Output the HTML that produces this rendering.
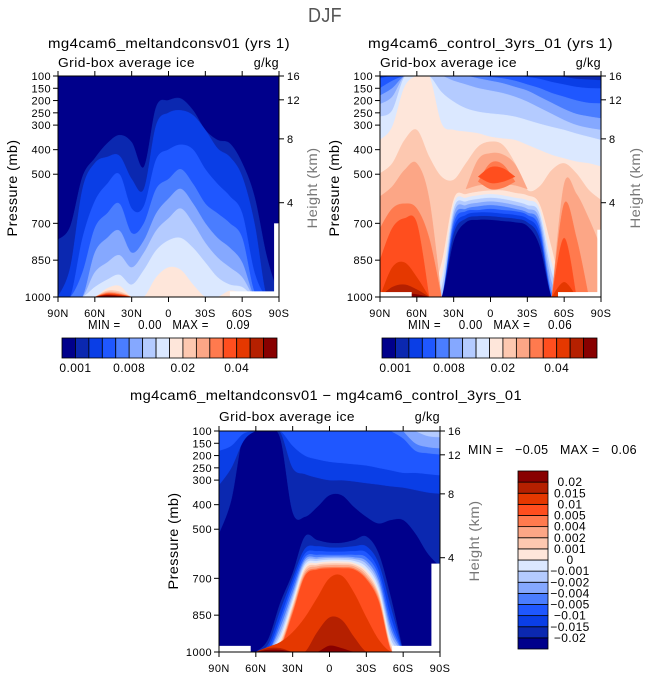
<!DOCTYPE html>
<html><head><meta charset="utf-8"><style>
html,body{margin:0;padding:0;background:#fff}
svg{display:block;font-family:"Liberation Sans",sans-serif}
text{white-space:pre;letter-spacing:0.4px}
</style></head><body>
<svg id="fig" width="649" height="676" viewBox="0 0 649 676" xmlns="http://www.w3.org/2000/svg">
<rect width="649" height="676" fill="#fff"/>
</svg>
<script>
// ---------- shared ----------
const LATS=[90,80,70,60,50,40,30,20,10,0,-10,-20,-30,-40,-50,-60,-70,-80,-90];
const PAL=['#00008b','#0b28b0','#0a3ee6','#1f57ff','#4a7dff','#85a8ff','#b4cbff','#dbe8ff','#fee6da','#fdc8b0','#fca686','#ff7a4e','#ff4e1e','#e53800','#b52000','#880000'];
const pTicks=[100,150,200,250,300,400,500,700,850,1000];
const hTickLabels=['16','12','8','4'];
const hTickP=[100,197,356,616];
const latTicks=[90,60,30,0,-30,-60,-90];
const latTickLabels=['90N','60N','30N','0','30S','60S','90S'];
const cbLabelsTop=['0.001','0.008','0.02','0.04'];
const cbLabelIdxTop=[1,5,9,13];
const cbLabelsDiff=['-0.02','-0.015','-0.01','-0.005','-0.004','-0.002','-0.001','0','0.001','0.002','0.004','0.005','0.01','0.015','0.02'];

// ---------- melt panel data ----------
const meltLevels=[1,2,3,4,5,6,7,8,9,10,11,12,13,14,15];
const meltStart=[0,0,0,0,0,0,0,0,3,3,3,3,3,3,3];
const meltTop=[
[767,713,510,435,375,341,370,470,226,199,192,240,320,361,375,455,591,835,1000],
[1000,880,560,455,430,425,520,560,300,250,240,260,320,395,430,510,700,1000,1000],
[1000,1000,760,610,540,500,640,630,440,400,380,400,480,540,590,660,900,1000,1000],
[1000,1000,900,720,660,620,740,700,560,520,480,540,620,660,700,760,980,1000,1000],
[1000,1000,1000,820,760,730,820,770,660,600,560,620,700,760,800,860,1000,1000,1000],
[1000,1000,1000,900,860,830,880,820,730,680,640,700,780,840,880,920,1000,1000,1000],
[1000,1000,1000,960,930,910,950,890,810,770,760,800,860,920,950,960,1000,1000,1000],
[1000,1000,1000,1000,965,955,1000,1000,920,880,890,950,1000,1000,975,985,1000,1000,1000],
[1000,975,978,1000],[1000,980,984,1000],[1000,984,988,1000],[1000,987,990,1000],
[1000,990,993,1000],[1000,992,995,1000],[1000,994,997,1000]];
const meltBot=[1000,1000,1000,1000,1000,1000,1000,1000,1000,1000,1000,1000,1000,1000,1000];
const meltMaskLat1=[-50,-86], meltMaskLat2=[-90,-90], meltMaskP=[977,700];

// ---------- control panel data ----------
const ctrlLevels=[1,2,3,4,5,6,7,8,9,10,10,10,11,11,11,12,12,12,13,13,14,15];
const ctrlStart=[0,0,0,0,0,0,0,0,0,0,7,14,0,8,14,0,8,14,0,14,0,0];
const ctrlTop=[
[100,100,100,100,100,100,100,100,100,100,100,100,100,100,100,100,100,100,100],
[100,100,100,100,100,100,100,100,100,100,100,100,100,100,100,105,112,115,118],
[110,100,100,100,100,100,100,100,100,100,100,100,105,112,125,135,145,150,151],
[150,120,100,100,100,100,100,100,100,105,110,120,135,150,170,185,200,210,212],
[180,150,100,100,100,100,100,100,110,120,130,145,160,185,210,235,255,265,273],
[215,185,100,100,100,100,120,135,150,160,170,185,205,230,255,280,300,312,320],
[266,240,104,100,100,165,205,232,246,253,258,266,280,295,308,320,335,348,361],
[361,307,145,100,100,293,320,327,334,348,355,361,381,402,422,436,449,456,469],
[497,456,361,320,429,510,523,456,388,368,381,456,564,550,483,456,497,564,605],
[591,550,483,456,600,1000],[560,440,415,420,460,560],[1000,540,580,680,800],
[720,640,620,640,760,1000],[530,455,460,530],[1000,620,760,1000],
[850,720,680,700,1000],[510,472,476,510],[1000,760,1000],
[1000,880,860,920,1000],[1000,940,1000],
[1000,960,950,970,1000],
[1000,990,985,990,1000]];
const ctrlBot=[
[1000,1000,1000,1000,1000,1000,770,695,685,685,690,695,710,790,1000,1000,1000,1000,1000],
[1000,1000,1000,1000,1000,1000,740,680,670,670,675,680,695,760,1000,1000,1000,1000,1000],
[1000,1000,1000,1000,1000,1000,720,665,655,655,660,665,680,740,1000,1000,1000,1000,1000],
[1000,1000,1000,1000,1000,1000,700,650,645,640,645,650,665,720,1000,1000,1000,1000,1000],
[1000,1000,1000,1000,1000,1000,680,640,630,625,630,640,655,700,980,1000,1000,1000,1000],
[1000,1000,1000,1000,1000,1000,660,625,615,610,615,625,640,680,940,1000,1000,1000,1000],
[1000,1000,1000,1000,1000,960,640,610,600,595,600,610,625,660,900,1000,1000,1000,1000],
[1000,1000,1000,1000,1000,920,620,595,585,580,585,595,605,640,860,1000,1000,1000,1000],
[1000,1000,1000,1000,1000,860,600,580,570,565,565,575,585,620,800,1000,1000,1000,1000],
1000,[560,545,540,540,545,560],1000,
1000,[530,560,555,530],1000,
1000,[510,535,530,510],1000,
1000,1000,1000,1000];
const ctrlMaskLat1=[90,-55,-87], ctrlMaskLat2=[65,-90,-90], ctrlMaskP=[980,980,726];

// ---------- difference panel data ----------
const diffLevels=[1,2,3,4,5,6,1,2,3,4,5,6,7,8,9,10,11,12,13,14,15];
const diffStart=[0,0,0,14,15,16,3,3,3,3,3,3,3,3,3,3,3,3,3,3,3];
const diffTop=[100,100,100,100,100,100,
[1000,950,800,680,530,545,556,556,545,530,600,780,1000],
[1000,970,830,700,580,570,575,575,570,570,640,820,1000],
[1000,985,860,720,600,590,592,592,590,595,670,860,1000],
[1000,1000,880,740,615,605,605,605,605,615,690,890,1000],
[1000,1000,900,760,625,615,612,612,615,630,710,910,1000],
[1000,1000,920,775,635,622,618,618,622,642,725,930,1000],
[1000,1000,935,790,645,630,625,625,630,655,740,950,1000],
[1000,1000,950,805,655,638,632,632,638,668,755,965,1000],
[1000,1000,960,815,665,645,640,640,645,678,765,975,1000],
[1000,1000,970,825,675,652,647,647,652,688,775,985,1000],
[1000,1000,975,835,685,660,655,655,660,698,785,990,1000],
[1000,1000,980,845,692,665,660,660,665,705,795,995,1000],
[1000,980,960,920,860,780,700,690,760,860,950,1000,1000],
[1000,985,985,1000,1000,920,860,870,940,1000,1000,1000,1000],
[1000,992,992,1000,1000,1000,975,985,1000,1000,1000,1000,1000]];
const diffBot=[
[517,380,110,100,100,130,430,449,409,361,361,409,449,476,462,462,517,598,652],
[320,250,140,100,100,105,250,275,290,300,300,305,312,318,325,330,340,350,355],
[180,160,110,100,100,100,160,200,215,225,230,235,240,250,260,270,270,275,280],
[100,130,180,190,195],[100,150,165,170],[100,120,125],
1000,1000,1000,1000,1000,1000,1000,1000,1000,1000,1000,1000,1000,1000,1000];
const diffMaskLat1=[90,-51,-83], diffMaskLat2=[65,-90,-90], diffMaskP=[975,975,640];

// ---------- drawing ----------
const NS='http://www.w3.org/2000/svg';
const svg=document.getElementById('fig');
function mk(tag,attrs,parent){const e=document.createElementNS(NS,tag);for(const k in attrs)e.setAttribute(k,attrs[k]);(parent||svg).appendChild(e);return e;}
function lx(P,lat){return P.x+(90-lat)/180*P.w;}
function py(P,p){return P.y+(p-100)/900*P.h;}
function curve(pts){let d='';for(let i=0;i<pts.length-1;i++){const p0=pts[Math.max(0,i-1)],p1=pts[i],p2=pts[i+1],p3=pts[Math.min(pts.length-1,i+2)];
const c1x=p1[0]+(p2[0]-p0[0])/6,c1y=p1[1]+(p2[1]-p0[1])/6,c2x=p2[0]-(p3[0]-p1[0])/6,c2y=p2[1]-(p3[1]-p1[1])/6;
d+=` C${c1x.toFixed(2)},${c1y.toFixed(2)} ${c2x.toFixed(2)},${c2y.toFixed(2)} ${p2[0].toFixed(2)},${p2[1].toFixed(2)}`;}return d;}
function val(a,i){return Array.isArray(a)?a[i]:a;}

function drawPanel(P,name,levels,starts,tops,bots,m1,m2,mp){
  const cid='clip-'+name;
  const defs=mk('defs',{});const cp=mk('clipPath',{id:cid},defs);mk('rect',{x:P.x,y:P.y,width:P.w,height:P.h},cp);
  const g=mk('g',{'clip-path':'url(#'+cid+')'});
  
  
  const bg=mk('rect',{x:P.x,y:P.y,width:P.w,height:P.h,fill:PAL[0]},g);
  
  
  for(let b=0;b<levels.length;b++){
    const n=Array.isArray(tops[b])?tops[b].length:bots[b].length;
    const s=starts[b];const tp=[],bp=[];
    for(let i=0;i<n;i++){const X=lx(P,LATS[s+i]);tp.push([X,py(P,val(tops[b],i))]);bp.push([X,py(P,val(bots[b],i))]);}
    bp.reverse();
    const d='M'+tp[0][0]+','+tp[0][1]+curve(tp)+' L'+bp[0][0]+','+bp[0][1]+curve(bp)+' Z';
    const path=mk('path',{d:d,fill:PAL[levels[b]],stroke:PAL[levels[b]],'stroke-width':0.4},g);
    
    
  }
  for(let k=0;k<m1.length;k++){
    const x1=lx(P,m1[k]),x2=lx(P,m2[k]);
    const r=mk('rect',{x:Math.min(x1,x2),y:py(P,mp[k]),width:Math.abs(x2-x1)+1,height:P.y+P.h-py(P,mp[k])+1,fill:'#fff'},g);
    
    
  }
  const fr=mk('rect',{x:P.x,y:P.y,width:P.w,height:P.h,fill:'none',stroke:'#000','stroke-width':1});
  
  
  for(let i=0;i<pTicks.length;i++){const Y=py(P,pTicks[i]);
    mk('line',{x1:P.x-5,y1:Y,x2:P.x,y2:Y,stroke:'#000'});
    const t=mk('text',{x:P.x-7,y:Y+4,'font-size':11,'text-anchor':'end'});t.textContent=pTicks[i];
    
    }
  for(let i=0;i<hTickP.length;i++){const Y=py(P,hTickP[i]);
    mk('line',{x1:P.x+P.w,y1:Y,x2:P.x+P.w+5,y2:Y,stroke:'#000'});
    const t=mk('text',{x:P.x+P.w+8,y:Y+4,'font-size':11});t.textContent=hTickLabels[i];
    
    }
  for(let i=0;i<latTicks.length;i++){const X=lx(P,latTicks[i]);
    mk('line',{x1:X,y1:P.y+P.h,x2:X,y2:P.y+P.h+5,stroke:'#000'});
    mk('line',{x1:X,y1:P.y-5,x2:X,y2:P.y,stroke:'#000'});
    const t=mk('text',{x:X,y:P.y+P.h+20,'font-size':11,'text-anchor':'middle'});t.textContent=latTickLabels[i];
    
    }
}
function txt(x,y,s,size,name,extra){const t=mk('text',Object.assign({x:x,y:y,'font-size':size},extra||{}));t.textContent=s;
  
  return t;}
function vtxt(x,y,s,name,fill,len){const t=mk('text',{x:0,y:0,'font-size':14,'text-anchor':'middle',fill:fill,textLength:len,lengthAdjust:'spacingAndGlyphs',transform:`translate(${x},${y}) rotate(-90)`});t.textContent=s;
  
  }
const FIT={lengthAdjust:'spacingAndGlyphs'};

const PM={x:58,y:76,w:221,h:221},PC={x:380,y:76,w:221,h:221},PD={x:219,y:431,w:221,h:221};
txt(325,22,'DJF',20,'figure-title',{'text-anchor':'middle',fill:'#555',textLength:34,lengthAdjust:'spacingAndGlyphs'});

drawPanel(PM,'melt',meltLevels,meltStart,meltTop,meltBot,meltMaskLat1,meltMaskLat2,meltMaskP);
txt(48,48,'mg4cam6_meltandconsv01 (yrs 1)',14,'melt-title',Object.assign({textLength:242},FIT));
txt(58,67,'Grid-box average ice',12.5,'melt-subtitle',Object.assign({textLength:137},FIT));
txt(279,67,'g/kg',12.5,'melt-units',{'text-anchor':'end'});
vtxt(17,188,'Pressure (mb)','melt-y-axis-title','#000',97);
vtxt(317,188,'Height (km)','melt-right-axis-title','#777',81);
txt(88,329,'MIN =     0.00   MAX =     0.09',13,'melt-min-max',Object.assign({textLength:162},FIT));

drawPanel(PC,'control',ctrlLevels,ctrlStart,ctrlTop,ctrlBot,ctrlMaskLat1,ctrlMaskLat2,ctrlMaskP);
txt(368,48,'mg4cam6_control_3yrs_01 (yrs 1)',14,'control-title',Object.assign({textLength:245},FIT));
txt(380,67,'Grid-box average ice',12.5,'control-subtitle',Object.assign({textLength:137},FIT));
txt(601,67,'g/kg',12.5,'control-units',{'text-anchor':'end'});
vtxt(339,188,'Pressure (mb)','control-y-axis-title','#000',97);
vtxt(640,188,'Height (km)','control-right-axis-title','#777',81);
txt(408,329,'MIN =     0.00   MAX =     0.06',13,'control-min-max',Object.assign({textLength:164},FIT));

drawPanel(PD,'diff',diffLevels,diffStart,diffTop,diffBot,diffMaskLat1,diffMaskLat2,diffMaskP);
txt(130,400,'mg4cam6_meltandconsv01 \u2212 mg4cam6_control_3yrs_01',14,'diff-title',Object.assign({textLength:392},FIT));
txt(219,421,'Grid-box average ice',12.5,'diff-subtitle',Object.assign({textLength:136},FIT));
txt(440,421,'g/kg',12.5,'diff-units',{'text-anchor':'end'});
vtxt(178,541,'Pressure (mb)','diff-y-axis-title','#000',97);
vtxt(479,541,'Height (km)','diff-right-axis-title','#777',81);
txt(468,454,'MIN =   \u22120.05   MAX =   0.06',13,'diff-min-max',Object.assign({textLength:169},FIT));

function hbar(x0,name){const y0=338,w=215,h=20,bw=w/16;
  for(let k=0;k<16;k++){const r=mk('rect',{x:x0+k*bw,y:y0,width:bw,height:h,fill:PAL[k],stroke:'#000','stroke-width':0.8});
    
    }
  for(let i=0;i<cbLabelsTop.length;i++){txt(x0+cbLabelIdxTop[i]*bw,372,cbLabelsTop[i],12,name+'-colorbar-label',{'text-anchor':'middle'});}
}
hbar(62,'melt');hbar(382,'control');
(function(){const x0=518,y0=471,w=30,h=178,bh=h/16;
  for(let k=0;k<16;k++){const r=mk('rect',{x:x0,y:y0+h-(k+1)*bh,width:w,height:bh,fill:PAL[k],stroke:'#000','stroke-width':0.8});
    
    }
  for(let i=0;i<cbLabelsDiff.length;i++){txt(570,y0+h-(i+1)*bh+4,cbLabelsDiff[i].replace('-','\u2212'),12,'diff-colorbar-label',{'text-anchor':'middle'});}
})();
</script>
</body></html>
